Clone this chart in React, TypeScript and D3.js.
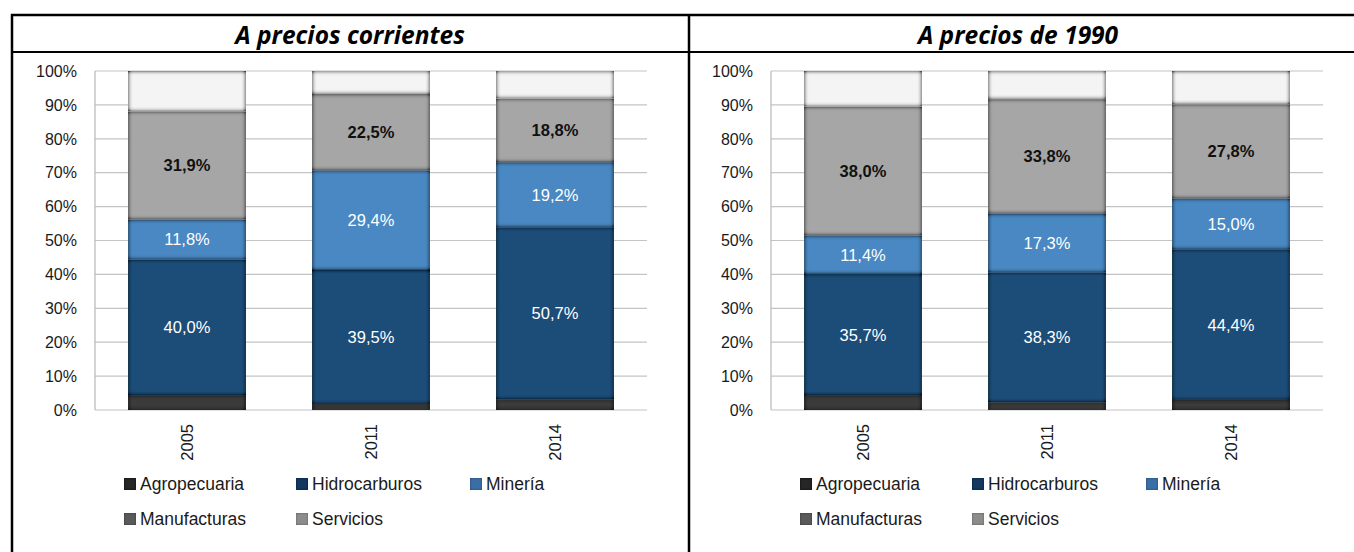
import React from "react";
import * as d3 from "d3";

const categories = ["2005", "2011", "2014"];
const seriesNames = ["Agropecuaria", "Hidrocarburos", "Minería", "Manufacturas", "Servicios"];
const yTicks = [0, 10, 20, 30, 40, 50, 60, 70, 80, 90, 100];

// A precios corrientes
const agroCorr = [4.4, 1.8, 3.2];
const hidroCorr = [40.0, 39.5, 50.7];
const minCorr = [11.8, 29.4, 19.2];
const manufCorr = [31.9, 22.5, 18.8];
const servCorr = [11.9, 6.8, 8.1];

// A precios de 1990
const agro1990 = [4.4, 2.3, 3.0];
const hidro1990 = [35.7, 38.3, 44.4];
const min1990 = [11.4, 17.3, 15.0];
const manuf1990 = [38.0, 33.8, 27.8];
const serv1990 = [10.5, 8.3, 9.8];

const titles = ["A precios corrientes", "A precios de 1990"];

const barColors = ["#3a3a3a", "#1f4e79", "#4a88c2", "#a6a6a6", "#f4f4f4"];
const markerColors = ["#262626", "#17375e", "#3a6ea5", "#5a5a5a", "#8c8c8c"];
const labelShown = [false, true, true, true, false];
const labelColor = ["#fff", "#fff", "#fff", "#111", "#111"];
const labelWeight = ["normal", "normal", "normal", "bold", "normal"];

const fmt = (v: number) => d3.format(".1f")(v).replace(".", ",") + "%";

function buildRows(cols: number[][]) {
  return categories.map((c, i) => {
    const row: any = { cat: c };
    seriesNames.forEach((s, k) => (row[s] = cols[k][i]));
    return row;
  });
}

const panels = [
  { title: titles[0], rows: buildRows([agroCorr, hidroCorr, minCorr, manufCorr, servCorr]), dx: 0, cx: 350 },
  { title: titles[1], rows: buildRows([agro1990, hidro1990, min1990, manuf1990, serv1990]), dx: 676, cx: 1018 },
];

const FONT = "'Liberation Sans', Arial, sans-serif";

function Panel({ title, rows, dx, cx }: any) {
  const plotLeft = 95 + dx;
  const plotRight = 647 + dx;
  const y = d3.scaleLinear().domain([0, 100]).range([410, 71]);
  const x = d3
    .scaleBand()
    .domain(categories)
    .range([plotLeft, plotRight])
    .paddingInner(0.36)
    .paddingOuter(0.18);
  const stacked = d3.stack().keys(seriesNames)(rows);
  const legendPos = [
    [124, 484],
    [296, 484],
    [470, 484],
    [124, 519],
    [296, 519],
  ];
  return (
    <g>
      <text
        x={cx}
        y={44}
        textAnchor="middle"
        fontFamily="'Open Sans', Lato, sans-serif"
        fontWeight="bold"
        fontStyle="italic"
        fontSize={24.5}
        fill="#000"
      >
        {title}
      </text>
      {yTicks.map((t) => (
        <g key={t}>
          <line x1={plotLeft} x2={plotRight} y1={y(t)} y2={y(t)} stroke="#c4c4c4" strokeWidth={1.2} />
          <text
            x={plotLeft - 18}
            y={y(t)}
            dy="0.36em"
            textAnchor="end"
            fontFamily={FONT}
            fontSize={16}
            fill="#1a1a1a"
          >
            {t}%
          </text>
        </g>
      ))}
      <line x1={plotLeft} x2={plotLeft} y1={y(100)} y2={y(0)} stroke="#b8b8b8" strokeWidth={1.2} />
      {stacked.map((s, k) =>
        s.map((d, i) => {
          const cat = categories[i];
          const x0 = x(cat) as number;
          const y0 = y(d[1]);
          const h = y(d[0]) - y(d[1]);
          return (
            <rect
              key={k + "-" + i}
              x={x0}
              y={y0}
              width={x.bandwidth()}
              height={h}
              fill={barColors[k]}
              filter="url(#innerShadow)"
            />
          );
        })
      )}
      {stacked.map((s, k) =>
        labelShown[k]
          ? s.map((d, i) => {
              const cat = categories[i];
              const v = d[1] - d[0];
              return (
                <text
                  key={"l" + k + "-" + i}
                  x={(x(cat) as number) + x.bandwidth() / 2}
                  y={y((d[0] + d[1]) / 2)}
                  dy="0.36em"
                  textAnchor="middle"
                  fontFamily={FONT}
                  fontSize={16.5}
                  fontWeight={labelWeight[k]}
                  fill={labelColor[k]}
                >
                  {fmt(v)}
                </text>
              );
            })
          : null
      )}
      {categories.map((c) => {
        const cxx = (x(c) as number) + x.bandwidth() / 2;
        return (
          <text
            key={"c" + c}
            transform={`translate(${cxx},424) rotate(-90)`}
            textAnchor="end"
            dy="0.36em"
            fontFamily={FONT}
            fontSize={16.5}
            fill="#1a1a1a"
          >
            {c}
          </text>
        );
      })}
      {seriesNames.map((s, k) => {
        const [lx, ly] = legendPos[k];
        return (
          <g key={"lg" + s}>
            <rect
              x={lx + dx}
              y={ly - 6}
              width={12}
              height={12}
              fill={markerColors[k]}
              filter="url(#innerShadowSmall)"
            />
            <text
              x={lx + dx + 16}
              y={ly}
              dy="0.36em"
              fontFamily={FONT}
              fontSize={17.5}
              fill="#1a1a1a"
            >
              {s}
            </text>
          </g>
        );
      })}
    </g>
  );
}

export default function App() {
  return (
    <svg
      width={1354}
      height={552}
      style={{ position: "absolute", left: 0, top: 0, background: "#fff" }}
    >
      <defs>
        <filter id="innerShadow" x="-10%" y="-10%" width="120%" height="120%">
          <feFlood floodColor="#000" floodOpacity="1" result="flood" />
          <feComposite in="flood" in2="SourceAlpha" operator="out" result="outside" />
          <feGaussianBlur in="outside" stdDeviation="2.2" result="blur" />
          <feComposite in="blur" in2="SourceAlpha" operator="in" result="shadow0" />
          <feComponentTransfer in="shadow0" result="shadow">
            <feFuncA type="linear" slope="1.6" />
          </feComponentTransfer>
          <feMerge>
            <feMergeNode in="SourceGraphic" />
            <feMergeNode in="shadow" />
          </feMerge>
        </filter>
        <filter id="innerShadowSmall" x="-20%" y="-20%" width="140%" height="140%">
          <feFlood floodColor="#000" floodOpacity="0.7" result="flood" />
          <feComposite in="flood" in2="SourceAlpha" operator="out" result="outside" />
          <feGaussianBlur in="outside" stdDeviation="1.3" result="blur" />
          <feComposite in="blur" in2="SourceAlpha" operator="in" result="shadow" />
          <feMerge>
            <feMergeNode in="SourceGraphic" />
            <feMergeNode in="shadow" />
          </feMerge>
        </filter>
      </defs>
      <rect x={0} y={0} width={1354} height={552} fill="#fff" />
      {panels.map((p) => (
        <Panel key={p.title} {...p} />
      ))}
      <line x1={11} x2={1354} y1={15} y2={15} stroke="#000" strokeWidth={2.5} />
      <line x1={11} x2={1354} y1={52} y2={52} stroke="#000" strokeWidth={1.8} />
      <line x1={12} x2={12} y1={14} y2={552} stroke="#000" strokeWidth={2.5} />
      <line x1={689} x2={689} y1={14} y2={552} stroke="#000" strokeWidth={2.5} />
    </svg>
  );
}
